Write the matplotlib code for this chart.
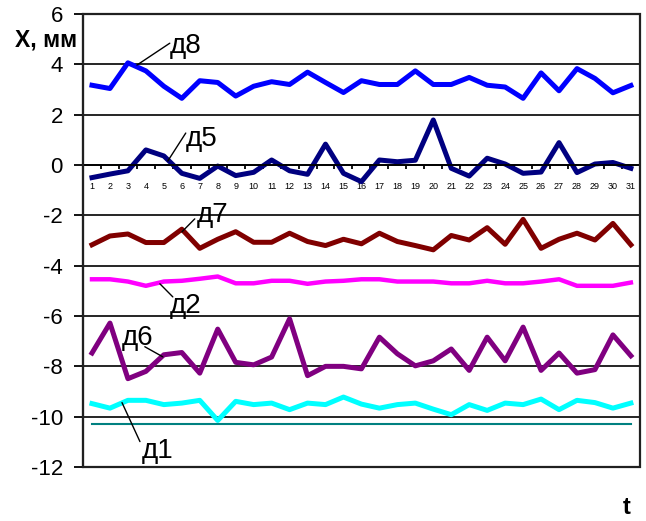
import matplotlib
matplotlib.use("Agg")
import matplotlib.pyplot as plt
from matplotlib.patches import Rectangle
import numpy as np

plt.rcParams['font.family'] = ['Liberation Sans', 'DejaVu Sans']
plt.rcParams['axes.unicode_minus'] = False

# measurement number 1..31
t = np.arange(1, 32)

# sensor readings, mm
d8 = [3.17, 3.04, 4.06, 3.74, 3.13, 2.65, 3.35, 3.28, 2.74, 3.13, 3.31, 3.2, 3.69, 3.28, 2.88,
      3.35, 3.2, 3.2, 3.74, 3.2, 3.2, 3.48, 3.17, 3.1, 2.65, 3.66, 2.95, 3.83, 3.44, 2.87, 3.16]
d5 = [-0.5, -0.36, -0.23, 0.6, 0.36, -0.33, -0.53, -0.04, -0.42, -0.29, 0.2, -0.23, -0.37, 0.83, -0.33,
      -0.66, 0.2, 0.13, 0.19, 1.79, -0.13, -0.44, 0.27, 0.04, -0.33, -0.28, 0.89, -0.3, 0.04, 0.1, -0.13]
d7 = [-3.17, -2.82, -2.74, -3.08, -3.08, -2.55, -3.31, -2.95, -2.65, -3.07, -3.07, -2.71, -3.04, -3.2, -2.95,
      -3.13, -2.71, -3.04, -3.2, -3.37, -2.8, -2.98, -2.49, -3.15, -2.16, -3.31, -2.95, -2.71, -2.98, -2.32, -3.17]
d2 = [-4.54, -4.54, -4.63, -4.8, -4.63, -4.6, -4.52, -4.43, -4.7, -4.7, -4.6, -4.6, -4.72, -4.63, -4.6,
      -4.54, -4.54, -4.63, -4.63, -4.63, -4.7, -4.7, -4.6, -4.7, -4.7, -4.63, -4.54, -4.8, -4.8, -4.8, -4.67]
d6 = [-7.47, -6.28, -8.49, -8.2, -7.54, -7.45, -8.27, -6.52, -7.84, -7.94, -7.63, -6.11, -8.37, -8.0, -8.0,
      -8.1, -6.84, -7.5, -7.98, -7.78, -7.31, -8.16, -6.84, -7.78, -6.44, -8.16, -7.47, -8.27, -8.13, -6.75, -7.58]
d1 = [-9.48, -9.66, -9.35, -9.35, -9.52, -9.46, -9.35, -10.15, -9.39, -9.52, -9.46, -9.72, -9.46, -9.52, -9.22,
      -9.5, -9.66, -9.52, -9.46, -9.7, -9.92, -9.52, -9.75, -9.46, -9.52, -9.3, -9.72, -9.35, -9.44, -9.66, -9.46]
base = [-10.28] * 31

fig = plt.figure(figsize=(6.46, 5.21), dpi=100)
ax = fig.add_axes([0.1285, 0.1036, 0.862, 0.8695])

ax.plot(t, base, color='#008080', lw=1.5)
ax.plot(t, d1, color='#00FFFF', lw=3.6)
ax.plot(t, d6, color='#800080', lw=3.6)
ax.plot(t, d2, color='#FF00FF', lw=3.2)
ax.plot(t, d7, color='#800000', lw=3.6)
ax.plot(t, d5, color='#000080', lw=3.6)
ax.plot(t, d8, color='#0000FF', lw=3.6)

ax.set_xlim(0.5, 31.5)
ax.set_ylim(-12, 6)
ax.set_yticks(np.arange(-12, 7, 2))
ax.yaxis.grid(True, color='black', lw=1.2)
ax.tick_params(axis='y', labelsize=16, length=6.5, width=1.3, pad=8, direction='out')

# x axis crosses at zero, ticks between categories
ax.spines['bottom'].set_position(('data', 0))
ax.spines['bottom'].set_linewidth(1.3)
ax.spines['left'].set_linewidth(1.5)
ax.spines['top'].set_visible(False)
ax.spines['right'].set_visible(False)
ax.set_xticks(np.arange(0.5, 32, 1))
ax.set_xticklabels([])
ax.set_xticks(t, minor=True)
ax.set_xticklabels([str(i) for i in t], minor=True)
ax.tick_params(axis='x', which='major', length=3, width=1.3, direction='out')
ax.tick_params(axis='x', which='minor', length=0, labelsize=6.5, pad=12)
ax.add_patch(Rectangle((0, 0), 1, 1, transform=ax.transAxes, fill=False,
                       edgecolor='#202020', lw=1.6, clip_on=False, zorder=5))

# series labels with leader lines
labels = [('д8', (5.33, 4.44), (5.33, 4.84), (3.5, 3.97)),
          ('д5', (6.22, 0.75), (6.22, 1.27), (5.22, 0.16)),
          ('д7', (6.83, -2.26), (6.72, -2.14), (6.0, -2.66)),
          ('д2', (5.33, -5.87), (4.78, -4.72), (5.5, -5.24)),
          ('д6', (2.67, -7.14), (3.94, -7.22), (4.94, -7.62)),
          ('д1', (3.78, -11.63), (2.67, -9.44), (3.67, -10.99))]
for name, pos, p0, p1 in labels:
    ax.text(pos[0], pos[1], name, fontsize=20, ha='left', va='baseline')
    ax.annotate('', xy=p1, xytext=p0,
                arrowprops=dict(arrowstyle='-', color='black', lw=1, shrinkA=0, shrinkB=0))

fig.text(15 / 646, 0.91, 'X, мм', fontsize=16.5, fontweight='bold', ha='left', va='baseline')
fig.text(0.964, 0.014, 't', fontsize=17, fontweight='bold', ha='left', va='baseline')

fig.savefig('out.png', dpi=100)
